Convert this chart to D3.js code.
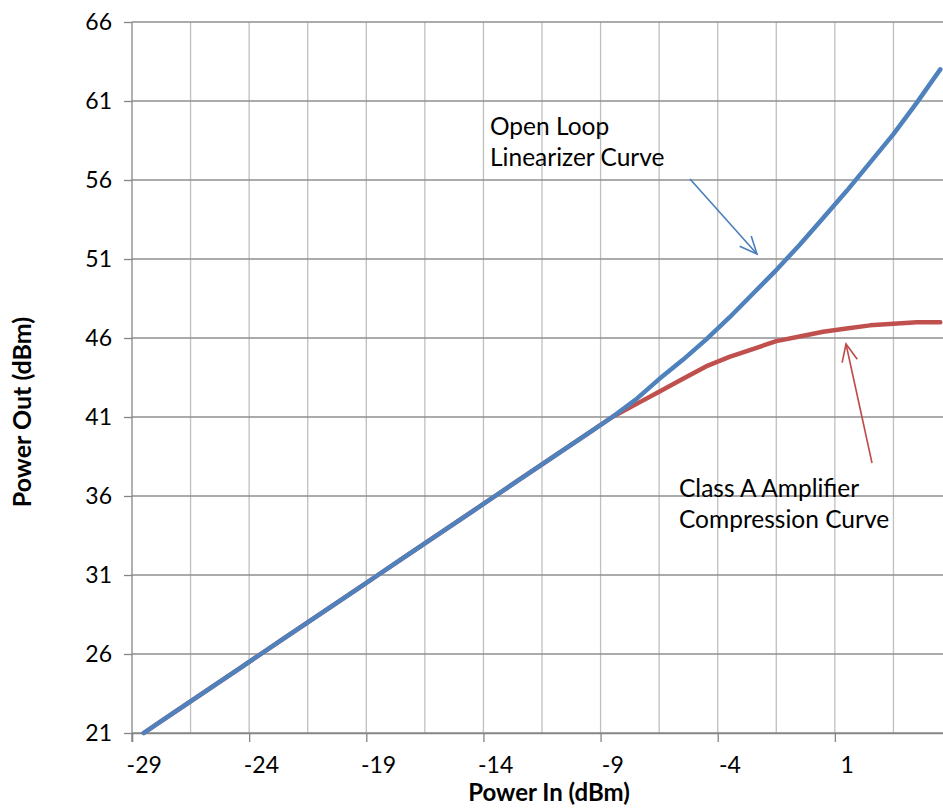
<!DOCTYPE html>
<html>
<head>
<meta charset="utf-8">
<script src="https://cdn.jsdelivr.net/npm/d3@7"></script>
<style>
  body { margin: 0; background: #fff; }
  svg { display: block; font-family: Lato, "Open Sans", sans-serif; }
</style>
</head>
<body>
<div id="chart"></div>
<script>
// power in (dBm), one point per category
const powerIn = [-29, -28, -27, -26, -25, -24, -23, -22, -21, -20, -19, -18,
  -17, -16, -15, -14, -13, -12, -11, -10, -9, -8, -7, -6, -5, -4, -3, -2, -1,
  0, 1, 2, 3, 4, 5];

const linearizerOut = [21, 22, 23, 24, 25, 26, 27, 28, 29, 30, 31, 32, 33, 34,
  35, 36, 37, 38, 39, 40, 41, 42.1, 43.4, 44.6, 45.9, 47.3, 48.8, 50.3, 51.9,
  53.6, 55.3, 57.1, 58.9, 60.9, 63.0];

const classAOut = [21, 22, 23, 24, 25, 26, 27, 28, 29, 30, 31, 32, 33, 34,
  35, 36, 37, 38, 39, 40, 41, 41.8, 42.6, 43.4, 44.2, 44.8, 45.3, 45.8, 46.1,
  46.4, 46.6, 46.8, 46.9, 47.0, 47.0];

const xLabels = [-29, -24, -19, -14, -9, -4, 1];
const yTicks = [21, 26, 31, 36, 41, 46, 51, 56, 61, 66];

const width = 943;
const height = 808;

const svg = d3.select('#chart').append('svg')
  .attr('width', width)
  .attr('height', height);

// category axis: each value sits in the middle of a 1 dBm slot
const x = d3.scaleLinear()
  .domain([-29.5, 5.5])
  .range([132, 952]);

const y = d3.scaleLinear()
  .domain([21, 66])
  .range([733, 22]);

const slotEdges = d3.range(-29.5, 5.6, 2.5);
const tickEdges = d3.range(-29.5, 5.6, 5);

// Gridlines
svg.append('g')
  .selectAll('line')
  .data(slotEdges.slice(1))
  .join('line')
  .attr('x1', d => x(d))
  .attr('x2', d => x(d))
  .attr('y1', y(66))
  .attr('y2', y(21))
  .attr('stroke', '#bfbfbf')
  .attr('stroke-width', 1.3);

svg.append('g')
  .selectAll('line')
  .data(yTicks)
  .join('line')
  .attr('x1', x(-29.5))
  .attr('x2', width)
  .attr('y1', d => y(d))
  .attr('y2', d => y(d))
  .attr('stroke', '#8f8f8f')
  .attr('stroke-width', 1.3);

// Axes
const yAxis = svg.append('g')
  .attr('transform', `translate(${x(-29.5)},0)`)
  .call(d3.axisLeft(y).tickValues(yTicks).tickSize(8).tickPadding(12));

const xTickAxis = svg.append('g')
  .attr('transform', `translate(0,${y(21)})`)
  .call(d3.axisBottom(x).tickValues(tickEdges).tickSize(9).tickFormat(''));

const xLabelAxis = svg.append('g')
  .attr('transform', `translate(0,${y(21)})`)
  .call(d3.axisBottom(x).tickValues(xLabels).tickSize(0).tickPadding(24)
    .tickFormat(d => String(d)));

[yAxis, xTickAxis, xLabelAxis].forEach(g => {
  g.selectAll('.domain').attr('stroke', '#868686').attr('stroke-width', 1.3);
  g.selectAll('.tick line').attr('stroke', '#868686').attr('stroke-width', 1.3);
  g.selectAll('text')
    .attr('fill', '#000')
    .style('font-size', '23px')
    .style('font-family', 'Lato, sans-serif');
});
xLabelAxis.select('.domain').remove();
yAxis.select('.domain').attr('d', `M0,${y(66)}V${y(21) + 9}`);

// Series
const line = d3.line()
  .x((d, i) => x(powerIn[i]))
  .y(d => d);

svg.append('path')
  .datum(classAOut.map(d => y(d)))
  .attr('d', line)
  .attr('fill', 'none')
  .attr('stroke', '#c0504d')
  .attr('stroke-width', 4.5)
  .attr('stroke-linejoin', 'round')
  .attr('stroke-linecap', 'round');

svg.append('path')
  .datum(linearizerOut.map(d => y(d)))
  .attr('d', line)
  .attr('fill', 'none')
  .attr('stroke', '#4f81bd')
  .attr('stroke-width', 4.5)
  .attr('stroke-linejoin', 'round')
  .attr('stroke-linecap', 'round');

// Axis titles
svg.append('text')
  .attr('x', 549)
  .attr('y', 801)
  .attr('text-anchor', 'middle')
  .style('font-size', '24px')
  .style('font-weight', 'bold')
  .text('Power In (dBm)');

svg.append('text')
  .attr('transform', 'translate(31,412) rotate(-90)')
  .attr('text-anchor', 'middle')
  .style('font-size', '25px')
  .style('font-weight', 'bold')
  .text('Power Out (dBm)');

// Callouts
function callout(lines, tx, ty, from, to, color) {
  const t = svg.append('text')
    .attr('x', tx)
    .attr('y', ty)
    .style('font-size', '24.5px');
  lines.forEach((s, i) => {
    t.append('tspan').attr('x', tx).attr('dy', i ? 31 : 0).text(s);
  });

  const ang = Math.atan2(to[1] - from[1], to[0] - from[0]);
  const len = 19;
  const spread = 0.42;
  const g = svg.append('g')
    .attr('stroke', color)
    .attr('stroke-width', 1.6)
    .attr('fill', 'none');
  g.append('line')
    .attr('x1', from[0]).attr('y1', from[1])
    .attr('x2', to[0]).attr('y2', to[1]);
  g.append('path')
    .attr('d', `M${to[0] - len * Math.cos(ang - spread)},${to[1] - len * Math.sin(ang - spread)}` +
      `L${to[0]},${to[1]}` +
      `L${to[0] - len * Math.cos(ang + spread)},${to[1] - len * Math.sin(ang + spread)}`);
}

callout(['Open Loop', 'Linearizer Curve'], 490, 135, [690, 179], [757, 254], '#4a7ebb');
callout(['Class A Amplifier', 'Compression Curve'], 679, 497, [872, 463], [846, 344], '#be4b48');
</script>
</body>
</html>
